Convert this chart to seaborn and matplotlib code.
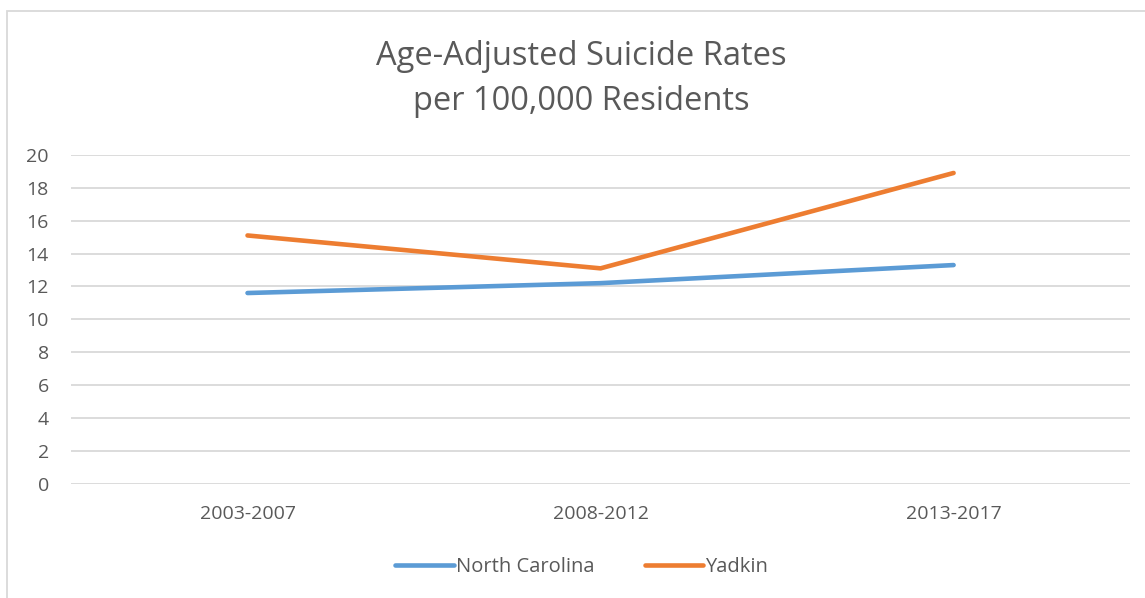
import pandas as pd
import matplotlib.pyplot as plt
import seaborn as sns
from matplotlib.patches import Rectangle

periods = ["2003-2007", "2008-2012", "2013-2017"]
north_carolina = [11.6, 12.2, 13.3]
yadkin = [15.1, 13.1, 18.9]
y_ticks = list(range(0, 21, 2))

df = pd.DataFrame({
    "period": periods * 2,
    "rate": north_carolina + yadkin,
    "area": ["North Carolina"] * 3 + ["Yadkin"] * 3,
})
df["x"] = df["period"].map({p: i for i, p in enumerate(periods)})

sns.set_style("white")
plt.rcParams["font.family"] = ["Open Sans", "DejaVu Sans"]
text_gray = "#595959"

fig = plt.figure(figsize=(11.45, 5.98), dpi=100)
ax = fig.add_axes([0.062, 0.191, 0.925, 0.550])

sns.lineplot(data=df, x="x", y="rate", hue="area",
             palette={"North Carolina": "#5B9BD5", "Yadkin": "#ED7D31"},
             linewidth=3.3, ax=ax, legend=True)
for line in ax.lines:
    line.set_solid_capstyle("round")

ax.set_xlim(-0.5, 2.5)
ax.set_ylim(0, 20)
ax.set_xticks(range(len(periods)))
ax.set_xticklabels(periods)
ax.set_yticks(y_ticks)
ax.yaxis.grid(True, color="#D9D9D9", linewidth=1.3)
ax.xaxis.grid(False)
for s in ax.spines.values():
    s.set_visible(False)
ax.tick_params(axis="both", length=0, labelsize=14, labelcolor=text_gray)
ax.tick_params(axis="x", pad=15)
ax.tick_params(axis="y", pad=16)
ax.set_xlabel("")
ax.set_ylabel("")

fig.text(0.508, 0.868, "Age-Adjusted Suicide Rates\nper 100,000 Residents",
         ha="center", va="center", fontsize=23.5, color=text_gray, linespacing=1.45)

handles, labels = ax.get_legend_handles_labels()
ax.legend(handles, labels, loc="center", bbox_to_anchor=(0.508, 0.052),
          bbox_transform=fig.transFigure, ncol=2, frameon=False,
          fontsize=14.5, labelcolor=text_gray, handlelength=2.9,
          handletextpad=0.1, columnspacing=2.5)

fig.patches.append(Rectangle((7 / 1145, -0.02), 1.2, 1 - 11 / 598 + 0.02,
                             transform=fig.transFigure, fill=False,
                             edgecolor="#D9D9D9", linewidth=1.3))

fig.savefig("out.png", dpi=100)
